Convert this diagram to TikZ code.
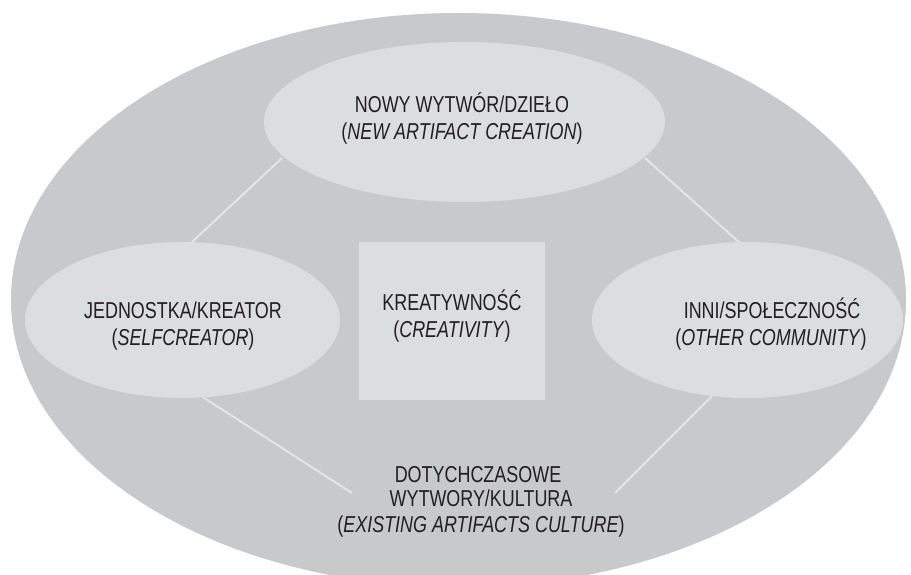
\documentclass[tikz,border=0pt]{standalone}
\usepackage{fontspec}
\setmainfont{Liberation Sans}[FakeStretch=0.78]
\usetikzlibrary{shapes.geometric}
\definecolor{outerfill}{RGB}{200,201,203}
\definecolor{innerfill}{RGB}{220,221,223}
\definecolor{linkcol}{RGB}{228,229,231}
\definecolor{txt}{RGB}{35,31,32}
\tikzset{
  outerell/.style={ellipse, fill=outerfill, inner sep=0pt},
  innerell/.style={ellipse, fill=innerfill, inner sep=0pt},
  centerbox/.style={rectangle, fill=innerfill, inner sep=0pt},
  lbl/.style={anchor=base, inner sep=0pt, text=txt, font=\fontsize{23}{27}\selectfont},
  link/.style={draw=linkcol, line width=2pt}
}
\begin{document}
\begin{tikzpicture}[x=1pt,y=-1pt]
\useasboundingbox (0,0) rectangle (911,575);
\clip (0,0) rectangle (911,575);
\fill[white] (0,0) rectangle (911,575);
\node[outerell, minimum width=895pt, minimum height=574pt] (world) at (458.5,300) {};
% link end points
\coordinate (tl1) at (282,158);
\coordinate (tl2) at (192,242);
\coordinate (tr1) at (645,158);
\coordinate (tr2) at (740,243);
\coordinate (bl1) at (198,394);
\coordinate (bl2) at (352,493);
\coordinate (br1) at (712,396);
\coordinate (br2) at (615,493);
\draw[link] (tl1) -- (tl2);
\draw[link] (tr1) -- (tr2);
\draw[link] (bl1) -- (bl2);
\draw[link] (br1) -- (br2);
\node[innerell, minimum width=401pt, minimum height=160pt] (artifact) at (464.5,122) {};
\node[innerell, minimum width=315pt, minimum height=156pt] (self) at (182.5,320) {};
\node[innerell, minimum width=311pt, minimum height=156pt] (others) at (747.5,320) {};
\node[centerbox, minimum width=186pt, minimum height=158pt] (creat) at (451.5,321) {};
% texts
\node[lbl] (ta1) at (462,113) {NOWY WYTWÓR/DZIEŁO};
\node[lbl] (ta2) at (462,140) {(\textit{NEW ARTIFACT CREATION})};
\node[lbl] (tc1) at (452,310) {KREATYWNOŚĆ};
\node[lbl] (tc2) at (452,337) {(\textit{CREATIVITY})};
\node[lbl] (ts1) at (183,318) {JEDNOSTKA/KREATOR};
\node[lbl] (ts2) at (183,345) {(\textit{SELFCREATOR})};
\node[lbl] (to1) at (772,318) {INNI/SPOŁECZNOŚĆ};
\node[lbl] (to2) at (771,345) {(\textit{OTHER COMMUNITY})};
\node[lbl] (tb1) at (478,482) {DOTYCHCZASOWE};
\node[lbl] (tb2) at (481,506) {WYTWORY/KULTURA};
\node[lbl] (tb3) at (481,532) {(\textit{EXISTING ARTIFACTS CULTURE})};
\end{tikzpicture}
\end{document}
